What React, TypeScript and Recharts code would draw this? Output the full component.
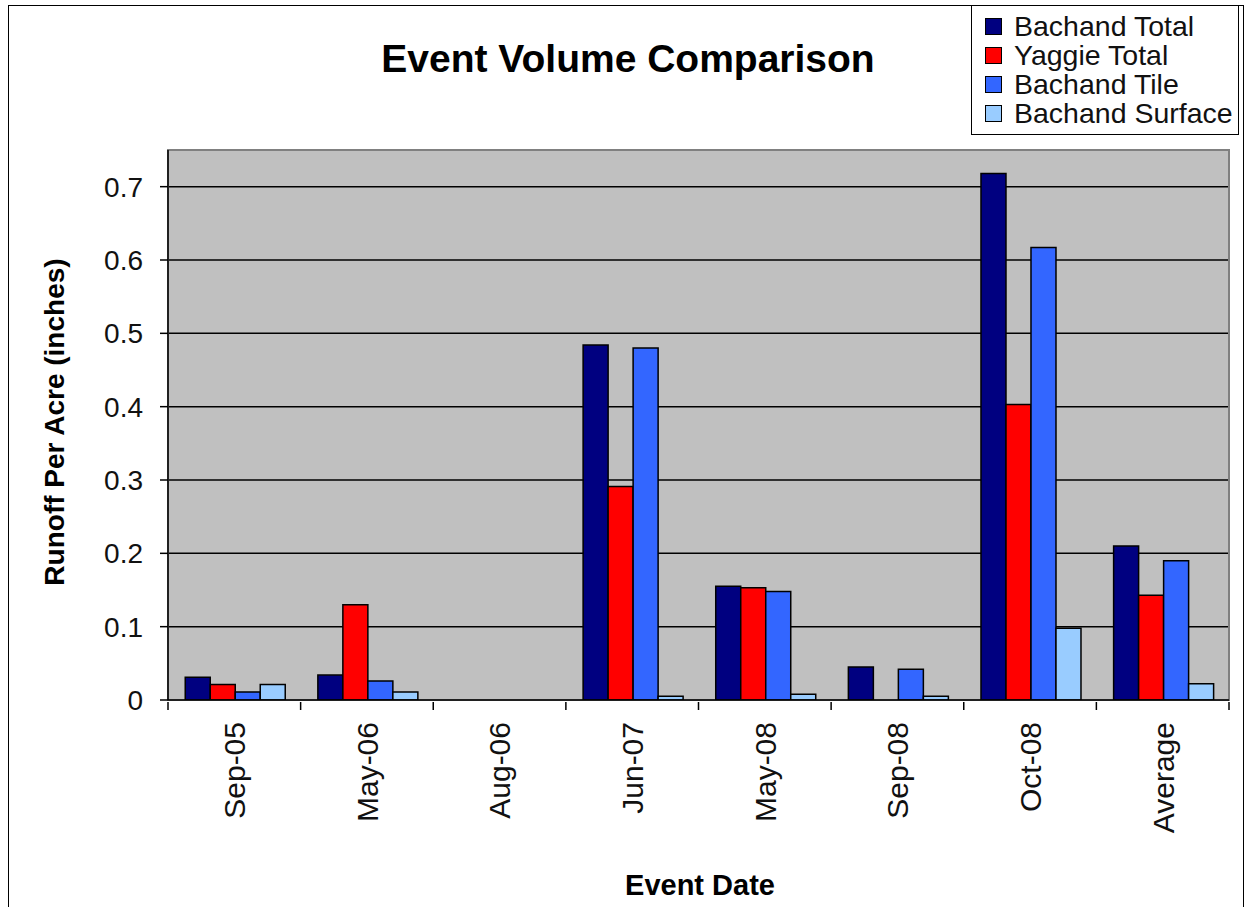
import React from 'react'
import { BarChart, Bar, XAxis, YAxis, CartesianGrid, Legend, ReferenceArea } from 'recharts'

const categories = ['Sep-05', 'May-06', 'Aug-06', 'Jun-07', 'May-08', 'Sep-08', 'Oct-08', 'Average']
const bachandTotal = [0.031, 0.034, 0, 0.484, 0.155, 0.045, 0.718, 0.21]
const yaggieTotal = [0.021, 0.13, 0, 0.291, 0.153, 0, 0.403, 0.143]
const bachandTile = [0.011, 0.026, 0, 0.48, 0.148, 0.042, 0.617, 0.19]
const bachandSurface = [0.021, 0.011, 0, 0.005, 0.008, 0.005, 0.098, 0.022]
const yTicks = [0, 0.1, 0.2, 0.3, 0.4, 0.5, 0.6, 0.7]

const seriesList = [
  { key: 'bachandTotal', name: 'Bachand Total', color: '#000080' },
  { key: 'yaggieTotal', name: 'Yaggie Total', color: '#FF0000' },
  { key: 'bachandTile', name: 'Bachand Tile', color: '#3366FF' },
  { key: 'bachandSurface', name: 'Bachand Surface', color: '#99CCFF' },
]

const chartData = categories.map((date, i) => ({
  date,
  bachandTotal: bachandTotal[i],
  yaggieTotal: yaggieTotal[i],
  bachandTile: bachandTile[i],
  bachandSurface: bachandSurface[i],
}))

const FONT = '"Liberation Sans", Arial, sans-serif'
const W = 1245
const H = 907
const PLOT_LEFT = 168
const PLOT_RIGHT = 1229
const BAND = (PLOT_RIGHT - PLOT_LEFT) / categories.length

// category ticks sit on the boundaries between groups, labels sit in the middle
const DateTick = (props: any) => {
  const { x, y, payload, index } = props
  const axisY = y - 8
  return (
    <g>
      <line x1={x - BAND / 2} x2={x - BAND / 2} y1={axisY} y2={axisY + 8} stroke="#000" strokeWidth={1.5} />
      {index === categories.length - 1 && (
        <line x1={x + BAND / 2} x2={x + BAND / 2} y1={axisY} y2={axisY + 8} stroke="#000" strokeWidth={1.5} />
      )}
      <g transform={`translate(${x},${axisY + 20})`}>
        <text transform="rotate(-90)" textAnchor="end" dy="0.36em" fontSize={30} fontFamily={FONT} fill="#111">
          {payload.value}
        </text>
      </g>
    </g>
  )
}

const LegendBox = () => (
  <div
    style={{
      width: 268,
      height: 130,
      boxSizing: 'border-box',
      border: '1.5px solid #000',
      background: '#fff',
      paddingTop: 6,
      paddingLeft: 13,
      fontFamily: FONT,
      fontSize: 28.5,
    }}
  >
    {seriesList.map(s => (
      <div key={s.key} style={{ display: 'flex', alignItems: 'center', height: 29, lineHeight: '29px', color: '#111' }}>
        <span
          style={{
            display: 'inline-block',
            width: 15,
            height: 15,
            background: s.color,
            border: '1px solid #000',
            marginRight: 12,
          }}
        />
        {s.name}
      </div>
    ))}
  </div>
)

export default function App() {
  return (
    <div style={{ position: 'absolute', left: 0, top: 0, width: W, height: H, background: '#fff', overflow: 'hidden' }}>
      <div
        style={{
          position: 'absolute',
          left: 8,
          top: 5,
          width: 1236,
          height: 920,
          boxSizing: 'border-box',
          border: '1px solid #000',
        }}
      />
      <div style={{ position: 'absolute', left: 0, top: 0 }}>
        <BarChart
          width={W}
          height={H}
          data={chartData}
          margin={{ top: 150, right: W - PLOT_RIGHT, left: 0, bottom: 0 }}
          barCategoryGap="13%"
          barGap={0}
        >
          <CartesianGrid vertical={false} stroke="#000" strokeWidth={1.5} fill="#C0C0C0" fillOpacity={1} />
          <ReferenceArea y1={0} y2={0.75} fill="none" stroke="#808080" strokeWidth={2} ifOverflow="visible" />
          <XAxis
            dataKey="date"
            height={207}
            interval={0}
            tickLine={false}
            tickSize={8}
            axisLine={{ stroke: '#000', strokeWidth: 1.5 }}
            tick={<DateTick />}
          />
          <YAxis
            width={PLOT_LEFT}
            domain={[0, 0.75]}
            ticks={yTicks}
            allowDataOverflow
            tickSize={8}
            tickMargin={17}
            tickFormatter={(v: number) => (v === 0 ? '0' : v.toFixed(1))}
            tick={{ fontSize: 28, fontFamily: FONT, fill: '#111' }}
            tickLine={{ stroke: '#000', strokeWidth: 1.5 }}
            axisLine={{ stroke: '#000', strokeWidth: 1.5 }}
          />
          <Legend
            layout="vertical"
            align="center"
            verticalAlign="middle"
            content={<LegendBox />}
            wrapperStyle={{ left: 971, top: 5, width: 268, height: 130 }}
          />
          {seriesList.map(s => (
            <Bar
              key={s.key}
              dataKey={s.key}
              name={s.name}
              fill={s.color}
              stroke="#000"
              strokeWidth={1.5}
              isAnimationActive={false}
            />
          ))}
        </BarChart>
      </div>
      <svg width={W} height={H} style={{ position: 'absolute', left: 0, top: 0, pointerEvents: 'none' }}>
        <text x={628} y={72} textAnchor="middle" fontFamily={FONT} fontWeight="bold" fontSize={39} fill="#000">
          Event Volume Comparison
        </text>
        <text
          transform="translate(64,422) rotate(-90)"
          textAnchor="middle"
          fontFamily={FONT}
          fontWeight="bold"
          fontSize={28}
          fill="#000"
        >
          Runoff Per Acre (inches)
        </text>
        <text x={700} y={895} textAnchor="middle" fontFamily={FONT} fontWeight="bold" fontSize={29} fill="#000">
          Event Date
        </text>
      </svg>
    </div>
  )
}
